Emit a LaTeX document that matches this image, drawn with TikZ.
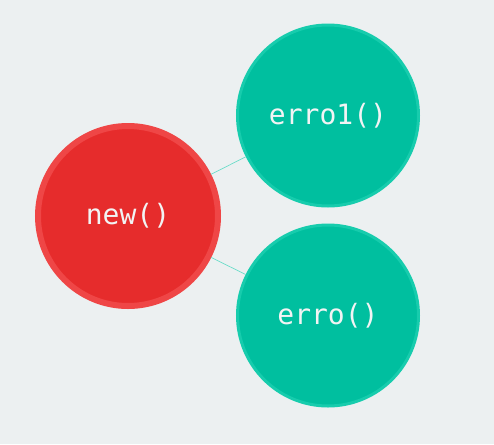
\documentclass[tikz,border=0pt]{standalone}
\usepackage{fontspec}
\newfontfamily\codefont{DejaVu Sans Mono}
\definecolor{bgrey}{HTML}{ECF0F1}
\definecolor{nred}{HTML}{E62C2C}
\definecolor{nredring}{HTML}{EF4646}
\definecolor{nteal}{HTML}{00BF9F}
\definecolor{ntealring}{HTML}{17CCAD}
\definecolor{nlink}{HTML}{66DCC8}
\definecolor{ntext}{HTML}{F2F4F4}
\tikzset{
	fn/.style={circle, inner sep=0pt, text=ntext, font=\codefont\fontsize{21}{25}\selectfont},
	rootfn/.style={fn, fill=nred, draw=nredring, line width=4.5pt, minimum size=135pt},
	callfn/.style={fn, fill=nteal, draw=ntealring, line width=2.25pt, minimum size=135.75pt},
	link/.style={draw=nlink, line width=0.5pt}
}
\begin{document}
\begin{tikzpicture}[x=0.75pt,y=-0.75pt]
				\pgfmathsetmacro\W{494}
				\pgfmathsetmacro\H{444}
				\fill[bgrey] (0,0) rectangle (\W,\H);
				\useasboundingbox (0,0) rectangle (\W,\H);
				\coordinate (N) at (128,216);
				\coordinate (E1) at (328,115.5);
				\coordinate (E0) at (328,315.5);

				\draw node[rootfn] (new) at (N) {new()};
				\draw node[callfn] (erro1) at (E1) {erro1()};
				\draw node[callfn] (erro) at (E0) {erro()};
				% links run from rim to rim
				\draw[link] (new) -- (erro1);
				\draw[link] (new) -- (erro);
			\end{tikzpicture}
\end{document}
